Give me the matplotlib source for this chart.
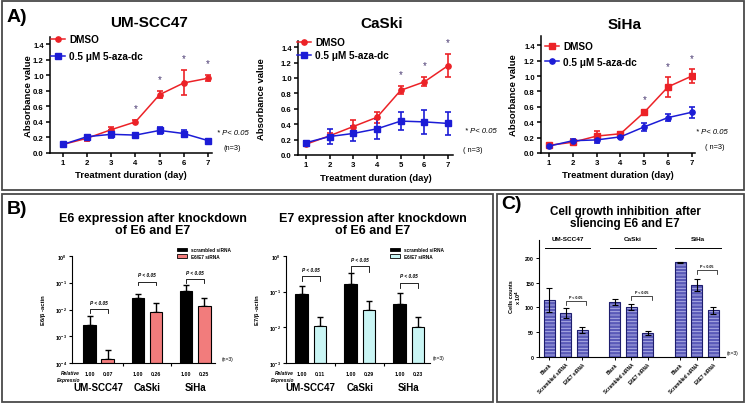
import matplotlib

matplotlib.use("Agg")
import numpy as np
import matplotlib.pyplot as plt
from matplotlib.patches import Rectangle, Patch
from matplotlib.lines import Line2D
from matplotlib.ticker import NullLocator, FormatStrFormatter
from matplotlib.transforms import blended_transform_factory

plt.rcParams["font.family"] = ["Liberation Sans", "DejaVu Sans"]
plt.rcParams["font.weight"] = "bold"
plt.rcParams["hatch.linewidth"] = 0.6

# ---- panel A data: absorbance over treatment days ----
days = [1, 2, 3, 4, 5, 6, 7]
umscc47_dmso = [0.11, 0.19, 0.30, 0.40, 0.75, 0.90, 0.96]
umscc47_dmso_err = [0.02, 0.03, 0.04, 0.02, 0.04, 0.16, 0.04]
umscc47_aza = [0.11, 0.21, 0.24, 0.23, 0.29, 0.25, 0.16]
umscc47_aza_err = [0.02, 0.02, 0.05, 0.02, 0.04, 0.04, 0.02]
caski_dmso = [0.14, 0.25, 0.37, 0.49, 0.84, 0.95, 1.16]
caski_dmso_err = [0.02, 0.04, 0.08, 0.07, 0.05, 0.06, 0.15]
caski_aza = [0.16, 0.24, 0.28, 0.34, 0.44, 0.43, 0.41]
caski_aza_err = [0.02, 0.10, 0.10, 0.13, 0.12, 0.16, 0.15]
siha_dmso = [0.10, 0.14, 0.22, 0.25, 0.53, 0.86, 1.00]
siha_dmso_err = [0.02, 0.03, 0.07, 0.02, 0.03, 0.13, 0.09]
siha_aza = [0.09, 0.16, 0.17, 0.21, 0.34, 0.46, 0.53]
siha_aza_err = [0.01, 0.02, 0.04, 0.02, 0.05, 0.05, 0.07]
umscc47_star_days = [4, 5, 6, 7]
caski_star_days = [5, 6, 7]
siha_star_days = [5, 6, 7]

# ---- panel B data: E6 / E7 expression (relative to beta-actin) ----
cell_lines = ["UM-SCC47", "CaSki", "SiHa"]
e6_scrambled = [2.7e-3, 2.6e-2, 4.9e-2]
e6_scrambled_err = [3.2e-3, 1.3e-2, 3.5e-2]
e6_sirna = [1.4e-4, 7.9e-3, 1.4e-2]
e6_sirna_err = [1.7e-4, 9.1e-3, 1.4e-2]
e6_rel = [["1.00", "0.07"], ["1.00", "0.26"], ["1.00", "0.25"]]
e7_scrambled = [0.086, 0.16, 0.045]
e7_scrambled_err = [0.054, 0.17, 0.047]
e7_sirna = [0.011, 0.031, 0.010]
e7_sirna_err = [0.009, 0.023, 0.010]
e7_rel = [["1.00", "0.11"], ["1.00", "0.29"], ["1.00", "0.23"]]
e6_bracket_y = [1.05e-2, 0.11, 0.14]
e7_bracket_y = [0.27, 0.51, 0.18]

# ---- panel C data: cell counts x 10^4 ----
treatments = ["Blank", "Scrambled siRNA", "E6E7 siRNA"]
counts_umscc47 = [115, 88, 55]
counts_umscc47_err = [24, 10, 6]
counts_caski = [111, 101, 48]
counts_caski_err = [6, 6, 4]
counts_siha = [191, 146, 94]
counts_siha_err = [1.5, 12, 7]
c_bracket_y = [113, 123, 176]

RED = "#ec2227"
BLUE = "#1c1cd6"
STAR = "#4a3a72"

W, H = 746, 406
fig = plt.figure(figsize=(W / 100, H / 100), dpi=100)


def add_ax(l, t, r, b):
    ax = fig.add_axes([l / W, 1 - b / H, (r - l) / W, (b - t) / H])
    ax.set_facecolor("none")
    return ax


# overlay in pixel coordinates for frames and free text
ov = fig.add_axes([0, 0, 1, 1], zorder=5)
ov.set_xlim(0, W)
ov.set_ylim(H, 0)
ov.axis("off")

for (x0, y0, x1, y1) in [(2, 2, 744, 191), (2, 195, 493, 403), (497, 195, 744, 403)]:
    ov.add_patch(Rectangle((x0, y0), x1 - x0, y1 - y0, fill=False, ec="#4a4a4a", lw=1.3))

ov.text(7, 17, "A)", fontsize=14, va="center")
ov.text(7, 210, "B)", fontsize=14, va="center")
ov.text(501, 205, "C)", fontsize=14, va="center")


# ================= Panel A =================
def growth(box, xlim, ytop, title, title_xy, dmso, dmso_err, aza, aza_err,
           stars, star_off, mk_dmso, mk_aza, leg_xy, leg_sp, ylab_x, xlab_y, note_xy, n_xy, n_txt):
    ax = add_ax(*box)
    ax.errorbar(days, dmso, yerr=dmso_err, color=RED, marker=mk_dmso, ms=3.8,
                lw=1.1, elinewidth=1.2, capsize=2.2, capthick=1.2)
    ax.errorbar(days, aza, yerr=aza_err, color=BLUE, marker=mk_aza, ms=3.8,
                lw=1.1, elinewidth=1.2, capsize=2.2, capthick=1.2)
    for d in stars:
        i = days.index(d)
        y = max(dmso[i] + dmso_err[i], aza[i] + aza_err[i]) + star_off
        ax.text(d, y, "*", ha="center", va="center", fontsize=7, color=STAR, fontweight="normal")
    ax.set_xlim(*xlim)
    ax.set_ylim(0, ytop)
    ax.set_xticks(days)
    ax.set_yticks(np.arange(0, 1.41, 0.2))
    ax.yaxis.set_major_formatter(FormatStrFormatter("%.1f"))
    for s in ["top", "right"]:
        ax.spines[s].set_visible(False)
    for s in ["left", "bottom"]:
        ax.spines[s].set_linewidth(1.1)
    ax.tick_params(direction="out", length=3, width=1.1, labelsize=5.6, pad=1.5)
    handles = [Line2D([], [], color=RED, marker=mk_dmso, ms=3.8, lw=1.1),
               Line2D([], [], color=BLUE, marker=mk_aza, ms=3.8, lw=1.1)]
    ax.legend(handles, ["DMSO", "0.5 μM 5-aza-dc"], loc="upper left",
              bbox_to_anchor=leg_xy, bbox_transform=ov.transData, frameon=False,
              fontsize=7.2, handlelength=1.4, handletextpad=0.4, borderpad=0,
              borderaxespad=0, labelspacing=leg_sp)
    ov.text(*title_xy, title, fontsize=11, ha="center", va="center")
    cy = (box[1] + box[3]) / 2
    ov.text(ylab_x, cy, "Absorbance value", rotation=90, fontsize=6.8, ha="center", va="center")
    cx = (box[0] + box[2]) / 2
    ov.text(cx, xlab_y, "Treatment duration (day)", fontsize=6.8, ha="center", va="center")
    ov.text(*note_xy, "* P< 0.05", fontsize=5.5, style="italic", fontweight="normal", va="center")
    ov.text(*n_xy, n_txt, fontsize=5.3, fontweight="normal", va="center")


growth((50, 38, 212, 154), (0.46, 7.17), 1.49, "UM-SCC47", (149, 23),
       umscc47_dmso, umscc47_dmso_err, umscc47_aza, umscc47_aza_err,
       umscc47_star_days, 0.16, "o", "s", (51, 35), 0.75, 29, 176, (217, 134), (223, 149), "(n=3)")
growth((298, 42, 453, 156), (0.66, 7.21), 1.48, "CaSki", (382, 24),
       caski_dmso, caski_dmso_err, caski_aza, caski_aza_err,
       caski_star_days, 0.16, "o", "s", (297, 38), 0.3, 261, 179, (465, 132), (463, 151), "( n=3)")
growth((541, 37, 695, 154), (0.66, 7.13), 1.52, "SiHa", (625, 25),
       siha_dmso, siha_dmso_err, siha_aza, siha_aza_err,
       siha_star_days, 0.14, "s", "o", (545, 42), 0.55, 513, 176, (696, 133), (705, 148), "( n=3)")


# ================= Panel B =================
OFF = 0.187
BW = 0.26


def expression(box, xlim, ylo, scr, scr_err, sir, sir_err, color, brackets, rel,
               title, title_x, ylabel, ylab_x, leg_xy, n_xy):
    ax = add_ax(*box)
    x = np.arange(len(cell_lines))
    ax.set_yscale("log")
    ax.bar(x - OFF, np.array(scr) - ylo, bottom=ylo, width=BW, color="black",
           edgecolor="black", lw=0.8, zorder=2)
    ax.bar(x + OFF, np.array(sir) - ylo, bottom=ylo, width=BW, color=color,
           edgecolor="black", lw=0.8, zorder=2)
    ax.errorbar(x - OFF, scr, yerr=[np.zeros(3), scr_err], fmt="none", ecolor="black",
                elinewidth=1.0, capsize=2.2, capthick=1.0, zorder=1)
    ax.errorbar(x + OFF, sir, yerr=[np.zeros(3), sir_err], fmt="none", ecolor="black",
                elinewidth=1.0, capsize=2.2, capthick=1.0, zorder=1)
    for i, yb in enumerate(brackets):
        ax.plot([i - OFF, i - OFF, i + OFF, i + OFF], [yb * 0.72, yb, yb, yb * 0.72],
                color="black", lw=0.6, clip_on=False)
        ax.annotate("P < 0.05", (i, yb), xytext=(0, 3), textcoords="offset points",
                    ha="center", va="bottom", fontsize=3.4, style="italic")
    ax.set_xlim(*xlim)
    ax.set_ylim(ylo, 1)
    ax.yaxis.set_minor_locator(NullLocator())
    ax.set_xticks([0.5, 1.5])
    ax.set_xticklabels([])
    for s in ["top", "right"]:
        ax.spines[s].set_visible(False)
    for s in ["left", "bottom"]:
        ax.spines[s].set_linewidth(0.8)
    ax.tick_params(direction="out", length=2, width=0.8, labelsize=3.8, pad=1.5)
    handles = [Patch(facecolor="black", edgecolor="black", lw=0.6),
               Patch(facecolor=color, edgecolor="black", lw=0.6)]
    ax.legend(handles, ["scrambled siRNA", "E6/E7 siRNA"], loc="upper left",
              bbox_to_anchor=leg_xy, bbox_transform=ov.transData, frameon=False,
              fontsize=3.4, handlelength=2.2, handleheight=0.7, handletextpad=0.8,
              borderpad=0, borderaxespad=0, labelspacing=0.35)
    tr = blended_transform_factory(ax.transData, ov.transData)
    for i, pair in enumerate(rel):
        ax.text(i - OFF, 375, pair[0], transform=tr, ha="center", va="center", fontsize=3.8)
        ax.text(i + OFF, 375, pair[1], transform=tr, ha="center", va="center", fontsize=3.8)
        ax.text(i, 388, cell_lines[i], transform=tr, ha="center", va="center", fontsize=7)
    ov.text(box[0] + 8, 374, "Relative", fontsize=3.5, style="italic", ha="right", va="center")
    ov.text(box[0] + 8, 381, "Expressio", fontsize=3.5, style="italic", ha="right", va="center")
    ov.text(title_x, 225, title, fontsize=9, ha="center", va="center", linespacing=1.0)
    ov.text(ylab_x, (box[1] + box[3]) / 2, ylabel, rotation=90, fontsize=4.2,
            ha="center", va="center")
    ov.text(*n_xy, "(n=3)", fontsize=3.6, fontweight="normal", va="center")


expression((72, 257, 215, 364), (-0.554, 2.41), 1e-4, e6_scrambled, e6_scrambled_err,
           e6_sirna, e6_sirna_err, "#f27c7c", e6_bracket_y, e6_rel,
           "E6 expression after knockdown\nof E6 and E7", 153, "E6/β -actin", 43,
           (177, 248), (222, 360))
expression((286, 257, 430, 364), (-0.505, 2.43), 1e-3, e7_scrambled, e7_scrambled_err,
           e7_sirna, e7_sirna_err, "#c9f5f4", e7_bracket_y, e7_rel,
           "E7 expression after knockdown\nof E6 and E7", 373, "E7/β -actin", 257,
           (390, 248), (433, 359))


# ================= Panel C =================
axc = add_ax(539, 241, 725, 358)
pos = np.array([0, 1, 2, 4, 5, 6, 8, 9, 10])
counts = np.array(counts_umscc47 + counts_caski + counts_siha)
counts_err = np.array(counts_umscc47_err + counts_caski_err + counts_siha_err)
axc.bar(pos, counts, width=0.67, color="#5a5ab8", edgecolor="#b8b8ea", hatch="-----", lw=0, zorder=1)
axc.bar(pos, counts, width=0.67, fill=False, edgecolor="#1e1e6e", lw=0.8, zorder=2)
axc.errorbar(pos, counts, yerr=counts_err, fmt="none", ecolor="black",
             elinewidth=0.8, capsize=2, capthick=0.8, zorder=3)
for g, name in enumerate(cell_lines):
    cx = pos[g * 3 + 1] + 0.1
    axc.plot([cx - 1.4, cx + 1.4], [220, 220], color="black", lw=0.7, clip_on=False)
    axc.text(cx, 240, name, ha="center", va="center", fontsize=4.6, clip_on=False)
for g, yb in enumerate(c_bracket_y):
    a, b = pos[g * 3 + 1], pos[g * 3 + 2] + 0.25
    axc.plot([a, a, b, b], [yb - 8, yb, yb, yb - 8], color="black", lw=0.5, clip_on=False)
    axc.text((a + b) / 2, yb + 4, "P < 0.05", ha="center", va="bottom", fontsize=2.6)
axc.set_xlim(-0.64, 10.73)
axc.set_ylim(0, 236)
axc.set_yticks([0, 50, 100, 150, 200])
axc.set_xticks(pos)
axc.set_xticklabels(treatments * 3, rotation=45, ha="right", rotation_mode="anchor", fontsize=3.4)
for s in ["top", "right"]:
    axc.spines[s].set_visible(False)
for s in ["left", "bottom"]:
    axc.spines[s].set_linewidth(0.8)
axc.tick_params(direction="out", length=2, width=0.7, labelsize=3.8, pad=1.5)
axc.tick_params(axis="x", labelsize=3.4)
ov.text(516, 297, "Cells counts\nx 10$^4$", rotation=90, fontsize=4.0, ha="center",
        va="center", linespacing=1.05)
ov.text(727, 354, "(n=3)", fontsize=3.6, fontweight="normal", va="center")
ov.text(625, 218, "Cell growth inhibition  after\nsliencing E6 and E7", fontsize=8.4,
        ha="center", va="center", linespacing=1.0)

fig.savefig("out.png", dpi=100)
